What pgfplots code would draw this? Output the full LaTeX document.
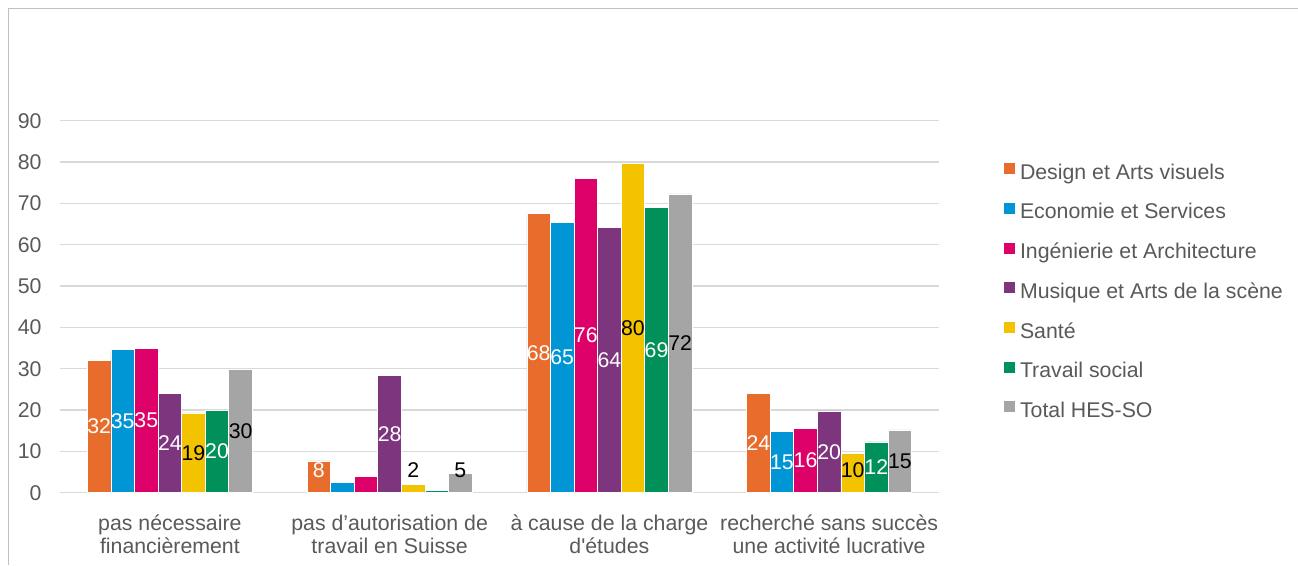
\documentclass[border=0pt]{standalone}
\usepackage{pgfplots}
\pgfplotsset{compat=1.18}
\usepackage{pgfplotstable}
\usepackage{fontspec}
\setmainfont{Liberation Sans}
\definecolor{cO}{HTML}{E86C2C}
\definecolor{cB}{HTML}{0096D6}
\definecolor{cP}{HTML}{DC0068}
\definecolor{cV}{HTML}{7D357E}
\definecolor{cY}{HTML}{F3C300}
\definecolor{cG}{HTML}{00915A}
\definecolor{cT}{HTML}{A5A5A5}
\definecolor{cGrid}{HTML}{D9D9D9}
\definecolor{cBorder}{HTML}{BFBFBF}
\definecolor{cText}{HTML}{595959}

\pgfplotstableread{
g v lab
0 32.0 32
1 7.7 8
2 67.6 68
3 24.1 24
}\tA
\pgfplotstableread{
g v lab
0 34.6 35
1 2.4 {}
2 65.4 65
3 14.8 15
}\tB
\pgfplotstableread{
g v lab
0 35.0 35
1 3.9 {}
2 76.1 76
3 15.6 16
}\tC
\pgfplotstableread{
g v lab
0 24.0 24
1 28.4 28
2 64.1 64
3 19.8 20
}\tD
\pgfplotstableread{
g v lab
0 19.3 19
1 1.9 2
2 79.7 80
3 9.6 10
}\tE
\pgfplotstableread{
g v lab
0 19.9 20
1 0.5 {}
2 69.1 69
3 12.3 12
}\tF
\pgfplotstableread{
g v lab
0 29.9 30
1 4.6 5
2 72.3 72
3 15.2 15
}\tG

\newcommand{\fs}{\fontsize{21.3}{22.5}\selectfont}

\pgfplotsset{
  mybar/.style={ybar, bar width=0.1073, bar shift=#1, draw=white, line width=0.7pt,
    legend image code/.code={\fill[##1, draw=none] (0pt,0.1pt) rectangle (11pt,11.1pt);}},
  mylab/.style={forget plot, draw=none, no marks, nodes near coords, point meta=explicit symbolic,
    every node near coord/.append style={anchor=center, font=\fs, text=#1, inner sep=0pt}},
}

\begin{document}
\begin{tikzpicture}[x=1pt,y=1pt]
\useasboundingbox (0,0) rectangle (1298,565);
\draw[color=cBorder, line width=1.3pt] (8.5,0) -- (8.5,556.5) -- (1298,556.5);
\begin{axis}[
  at={(60pt,72.3pt)}, anchor=south west,
  scale only axis, width=879pt, height=372pt,
  xmin=-0.5, xmax=3.5, ymin=0, ymax=90,
  xtick={0,1,2,3},
  xticklabels={pas nécessaire\\financièrement, pas d’autorisation de\\travail en Suisse, à cause de la charge\\d\textquotesingle études, recherché sans succès\\une activité lucrative},
  ytick={0,10,...,90},
  ymajorgrids, grid style={draw=cGrid, line width=1.3pt},
  axis line style={draw=none},
  major tick length=0pt,
  tick label style={font=\fs, text=cText},
  xticklabel style={align=center, yshift=-19pt},
  yticklabel style={xshift=-15pt},
  /pgf/number format/assume math mode=true,
  clip=false,
  legend cell align=left,
  legend style={at={(1.07395,0.886)}, anchor=north west, draw=none, fill=none,
    inner sep=0pt, outer sep=0pt, row sep=18.6pt, font=\fs, text=cText,
    nodes={inner sep=0pt, text height=15pt, text depth=5pt},
    /tikz/every odd column/.append style={column sep=5pt}},
]
\addplot[mybar=-0.3219, fill=cO] table[x=g,y=v]{\tA};
\addlegendentry{Design et Arts visuels}
\addplot[mybar=-0.2146, fill=cB] table[x=g,y=v]{\tB};
\addlegendentry{Economie et Services}
\addplot[mybar=-0.1073, fill=cP] table[x=g,y=v]{\tC};
\addlegendentry{Ingénierie et Architecture}
\addplot[mybar=0, fill=cV] table[x=g,y=v]{\tD};
\addlegendentry{Musique et Arts de la scène}
\addplot[mybar=0.1073, fill=cY] table[x=g,y=v]{\tE};
\addlegendentry{Santé}
\addplot[mybar=0.2146, fill=cG] table[x=g,y=v]{\tF};
\addlegendentry{Travail social}
\addplot[mybar=0.3219, fill=cT] table[x=g,y=v]{\tG};
\addlegendentry{Total HES-SO}

\addplot[mylab=white] table[x expr=\thisrow{g}-0.3219, y expr={max(\thisrow{v}/2,5.4)}, meta=lab]{\tA};
\addplot[mylab=white] table[x expr=\thisrow{g}-0.2146, y expr={max(\thisrow{v}/2,5.4)}, meta=lab]{\tB};
\addplot[mylab=white] table[x expr=\thisrow{g}-0.1073, y expr={max(\thisrow{v}/2,5.4)}, meta=lab]{\tC};
\addplot[mylab=white] table[x expr=\thisrow{g}, y expr={max(\thisrow{v}/2,5.4)}, meta=lab]{\tD};
\addplot[mylab=black] table[x expr=\thisrow{g}+0.1073, y expr={max(\thisrow{v}/2,5.4)}, meta=lab]{\tE};
\addplot[mylab=white] table[x expr=\thisrow{g}+0.2146, y expr={max(\thisrow{v}/2,5.4)}, meta=lab]{\tF};
\addplot[mylab=black] table[x expr=\thisrow{g}+0.3219, y expr={max(\thisrow{v}/2,5.4)}, meta=lab]{\tG};
\end{axis}
\end{tikzpicture}
\end{document}
